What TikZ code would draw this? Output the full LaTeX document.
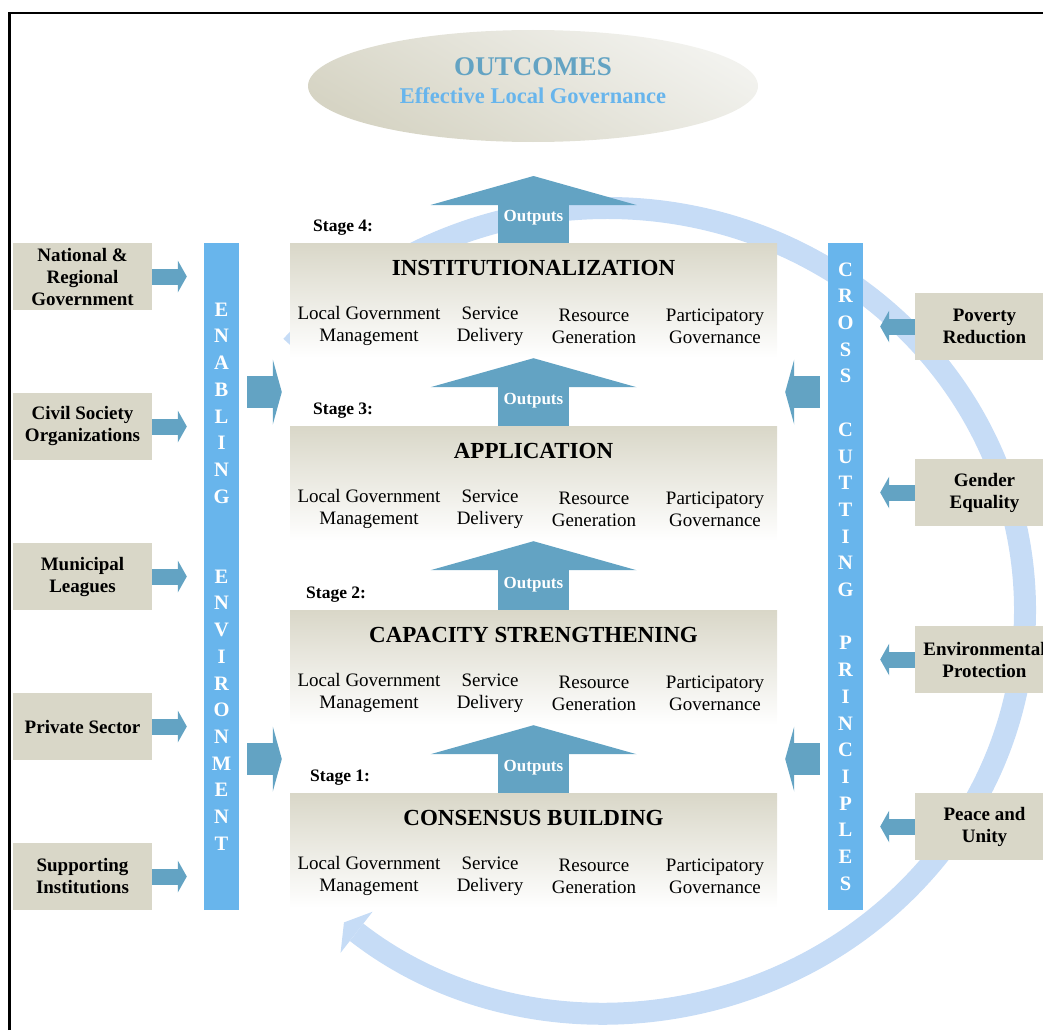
\documentclass[tikz,border=0pt]{standalone}
\usepackage{fontspec}
\setmainfont{Liberation Serif}
\usetikzlibrary{shapes.geometric,arrows.meta}

\definecolor{boxbeige}{HTML}{D9D7C8}
\definecolor{arrowblue}{HTML}{63A3C3}
\definecolor{barblue}{HTML}{68B5EC}
\definecolor{cycleblue}{HTML}{C6DCF6}
\definecolor{elltop}{HTML}{F2F2EE}
\definecolor{ellbot}{HTML}{D6D4C4}

\begin{document}
\begin{tikzpicture}
  [x=1pt,y=-1pt,
   stage box/.style={minimum width=487pt,minimum height=115pt,inner sep=0pt,top color=boxbeige,bottom color=white},
   stage title/.style={font=\fontsize{23}{25}\selectfont\bfseries},
   area text/.style={align=center,font=\fontsize{19}{22}\selectfont},
   stage tag/.style={anchor=west,inner sep=0pt,font=\fontsize{17.5}{19}\selectfont\bfseries},
   out text/.style={text=white,font=\fontsize{17}{19}\selectfont\bfseries},
   side box/.style={fill=boxbeige,minimum width=139pt,minimum height=67pt,inner sep=0pt,align=center,font=\fontsize{19}{22}\selectfont\bfseries},
   bar node/.style={fill=barblue,minimum width=35pt,minimum height=667pt,inner sep=0pt,align=center,text=white,font=\fontsize{20.5}{26.7}\selectfont\bfseries},
   out arrow/.style={draw=arrowblue,line width=71pt,-{Triangle[width=206pt,length=29pt,line width=0pt]}},
   feed arrow/.style={draw=arrowblue,line width=16pt,shorten >=17pt,-{Triangle[width=32pt,length=9pt,line width=0pt]}},
   big arrow/.style={draw=arrowblue,line width=32pt,shorten <=8pt,shorten >=8pt,-{Triangle[width=65pt,length=9pt,line width=0pt]}}]
  \useasboundingbox (0,0) rectangle (1043,1030);
  \draw[line width=2.5pt] (9.5,1030) -- (9.5,13) -- (1043,13);

  % cycle behind everything
  \coordinate (hub) at (607,610);
  \draw[cycleblue,line width=22pt,-{Triangle[width=52pt,length=16pt,line width=0pt]}]
  (hub) ++(221:418 and 402) arc[start angle=221,end angle=489,x radius=418,y radius=402];

  \node[ellipse,minimum width=450pt,minimum height=112pt,top color=elltop,bottom color=ellbot,shading angle=-30] (outc) at (533,86) {};
  \node[text=arrowblue,font=\fontsize{27}{29}\selectfont\bfseries] (outt) at (533,67) {OUTCOMES};
  \node[text=barblue,font=\fontsize{22.5}{29}\selectfont\bfseries] (outs) at (533,96) {Effective Local Governance};
  \coordinate (goal) at (533.5,176);

  % stages
  \node[stage box] (s4) at (533.5,300.5) {};
  \node[stage title] (t4) at (533.5,268) {INSTITUTIONALIZATION};
  \node[area text] (s4a) at (369,326) {Local Government\\Management};
  \node[area text] (s4b) at (490,326) {Service\\Delivery};
  \node[area text] (s4c) at (594,326) {Resource\\Generation};
  \node[area text] (s4d) at (715,326) {Participatory\\Governance};
  \node[stage tag] (l4) at (313,228) {Stage 4:};

  \node[stage box] (s3) at (533.5,483.5) {};
  \node[stage title] (t3) at (533.5,451) {APPLICATION};
  \node[area text] (s3a) at (369,509) {Local Government\\Management};
  \node[area text] (s3b) at (490,509) {Service\\Delivery};
  \node[area text] (s3c) at (594,509) {Resource\\Generation};
  \node[area text] (s3d) at (715,509) {Participatory\\Governance};
  \node[stage tag] (l3) at (313,411) {Stage 3:};

  \node[stage box] (s2) at (533.5,667.5) {};
  \node[stage title] (t2) at (533.5,635) {CAPACITY STRENGTHENING};
  \node[area text] (s2a) at (369,693) {Local Government\\Management};
  \node[area text] (s2b) at (490,693) {Service\\Delivery};
  \node[area text] (s2c) at (594,693) {Resource\\Generation};
  \node[area text] (s2d) at (715,693) {Participatory\\Governance};
  \node[stage tag] (l2) at (306,595) {Stage 2:};

  \node[stage box] (s1) at (533.5,850.5) {};
  \node[stage title] (t1) at (533.5,818) {CONSENSUS BUILDING};
  \node[area text] (s1a) at (369,876) {Local Government\\Management};
  \node[area text] (s1b) at (490,876) {Service\\Delivery};
  \node[area text] (s1c) at (594,876) {Resource\\Generation};
  \node[area text] (s1d) at (715,876) {Participatory\\Governance};
  \node[stage tag] (l1) at (310,778) {Stage 1:};

  \path (s1.north) edge[out arrow] (s2.south);
  \path (s2.north) edge[out arrow] (s3.south);
  \path (s3.north) edge[out arrow] (s4.south);
  \path (s4.north) edge[out arrow] (goal);
  \node[out text] (o1) at (533.5,768) {Outputs};
  \node[out text] (o2) at (533.5,585) {Outputs};
  \node[out text] (o3) at (533.5,401) {Outputs};
  \node[out text] (o4) at (533.5,218) {Outputs};

  % bars
  \node[bar node] (enab) at (221.5,576.5)
  {E\\N\\A\\B\\L\\I\\N\\G\\[53.4pt]E\\N\\V\\I\\R\\O\\N\\M\\E\\N\\T};
  \node[bar node] (cross) at (845.5,576.5)
  {C\\R\\O\\S\\S\\[26.7pt]C\\U\\T\\T\\I\\N\\G\\[26.7pt]P\\R\\I\\N\\C\\I\\P\\L\\E\\S};

  \coordinate (g43) at (533.5,392);
  \coordinate (g21) at (533.5,759);
  \path (enab.east |- g43) edge[big arrow] (s4.west |- g43);
  \path (enab.east |- g21) edge[big arrow] (s1.west |- g21);
  \path (cross.west |- g43) edge[big arrow] (s4.east |- g43);
  \path (cross.west |- g21) edge[big arrow] (s1.east |- g21);

  % left side
  \node[side box] (lb1) at (82.5,276.5) {National \&\\Regional\\Government};
  \node[side box] (lb2) at (82.5,426.5) {Civil Society\\Organizations};
  \node[side box] (lb3) at (82.5,576.5) {Municipal\\Leagues};
  \node[side box] (lb4) at (82.5,726.5) {Private Sector};
  \node[side box] (lb5) at (82.5,876.5) {Supporting\\Institutions};
  \path (lb1.east) edge[feed arrow] (enab.west |- lb1.east);
  \path (lb2.east) edge[feed arrow] (enab.west |- lb2.east);
  \path (lb3.east) edge[feed arrow] (enab.west |- lb3.east);
  \path (lb4.east) edge[feed arrow] (enab.west |- lb4.east);
  \path (lb5.east) edge[feed arrow] (enab.west |- lb5.east);

  % right side
  \node[side box] (rb1) at (984.5,326.5) {Poverty\\Reduction};
  \node[side box] (rb2) at (984.5,492.5) {Gender\\Equality};
  \node[side box] (rb3) at (984.5,659.5) {Environmental\\Protection};
  \node[side box] (rb4) at (984.5,826.5) {Peace and\\Unity};
  \path (rb1.west) edge[feed arrow] (cross.east |- rb1.west);
  \path (rb2.west) edge[feed arrow] (cross.east |- rb2.west);
  \path (rb3.west) edge[feed arrow] (cross.east |- rb3.west);
  \path (rb4.west) edge[feed arrow] (cross.east |- rb4.west);
\end{tikzpicture}
\end{document}
